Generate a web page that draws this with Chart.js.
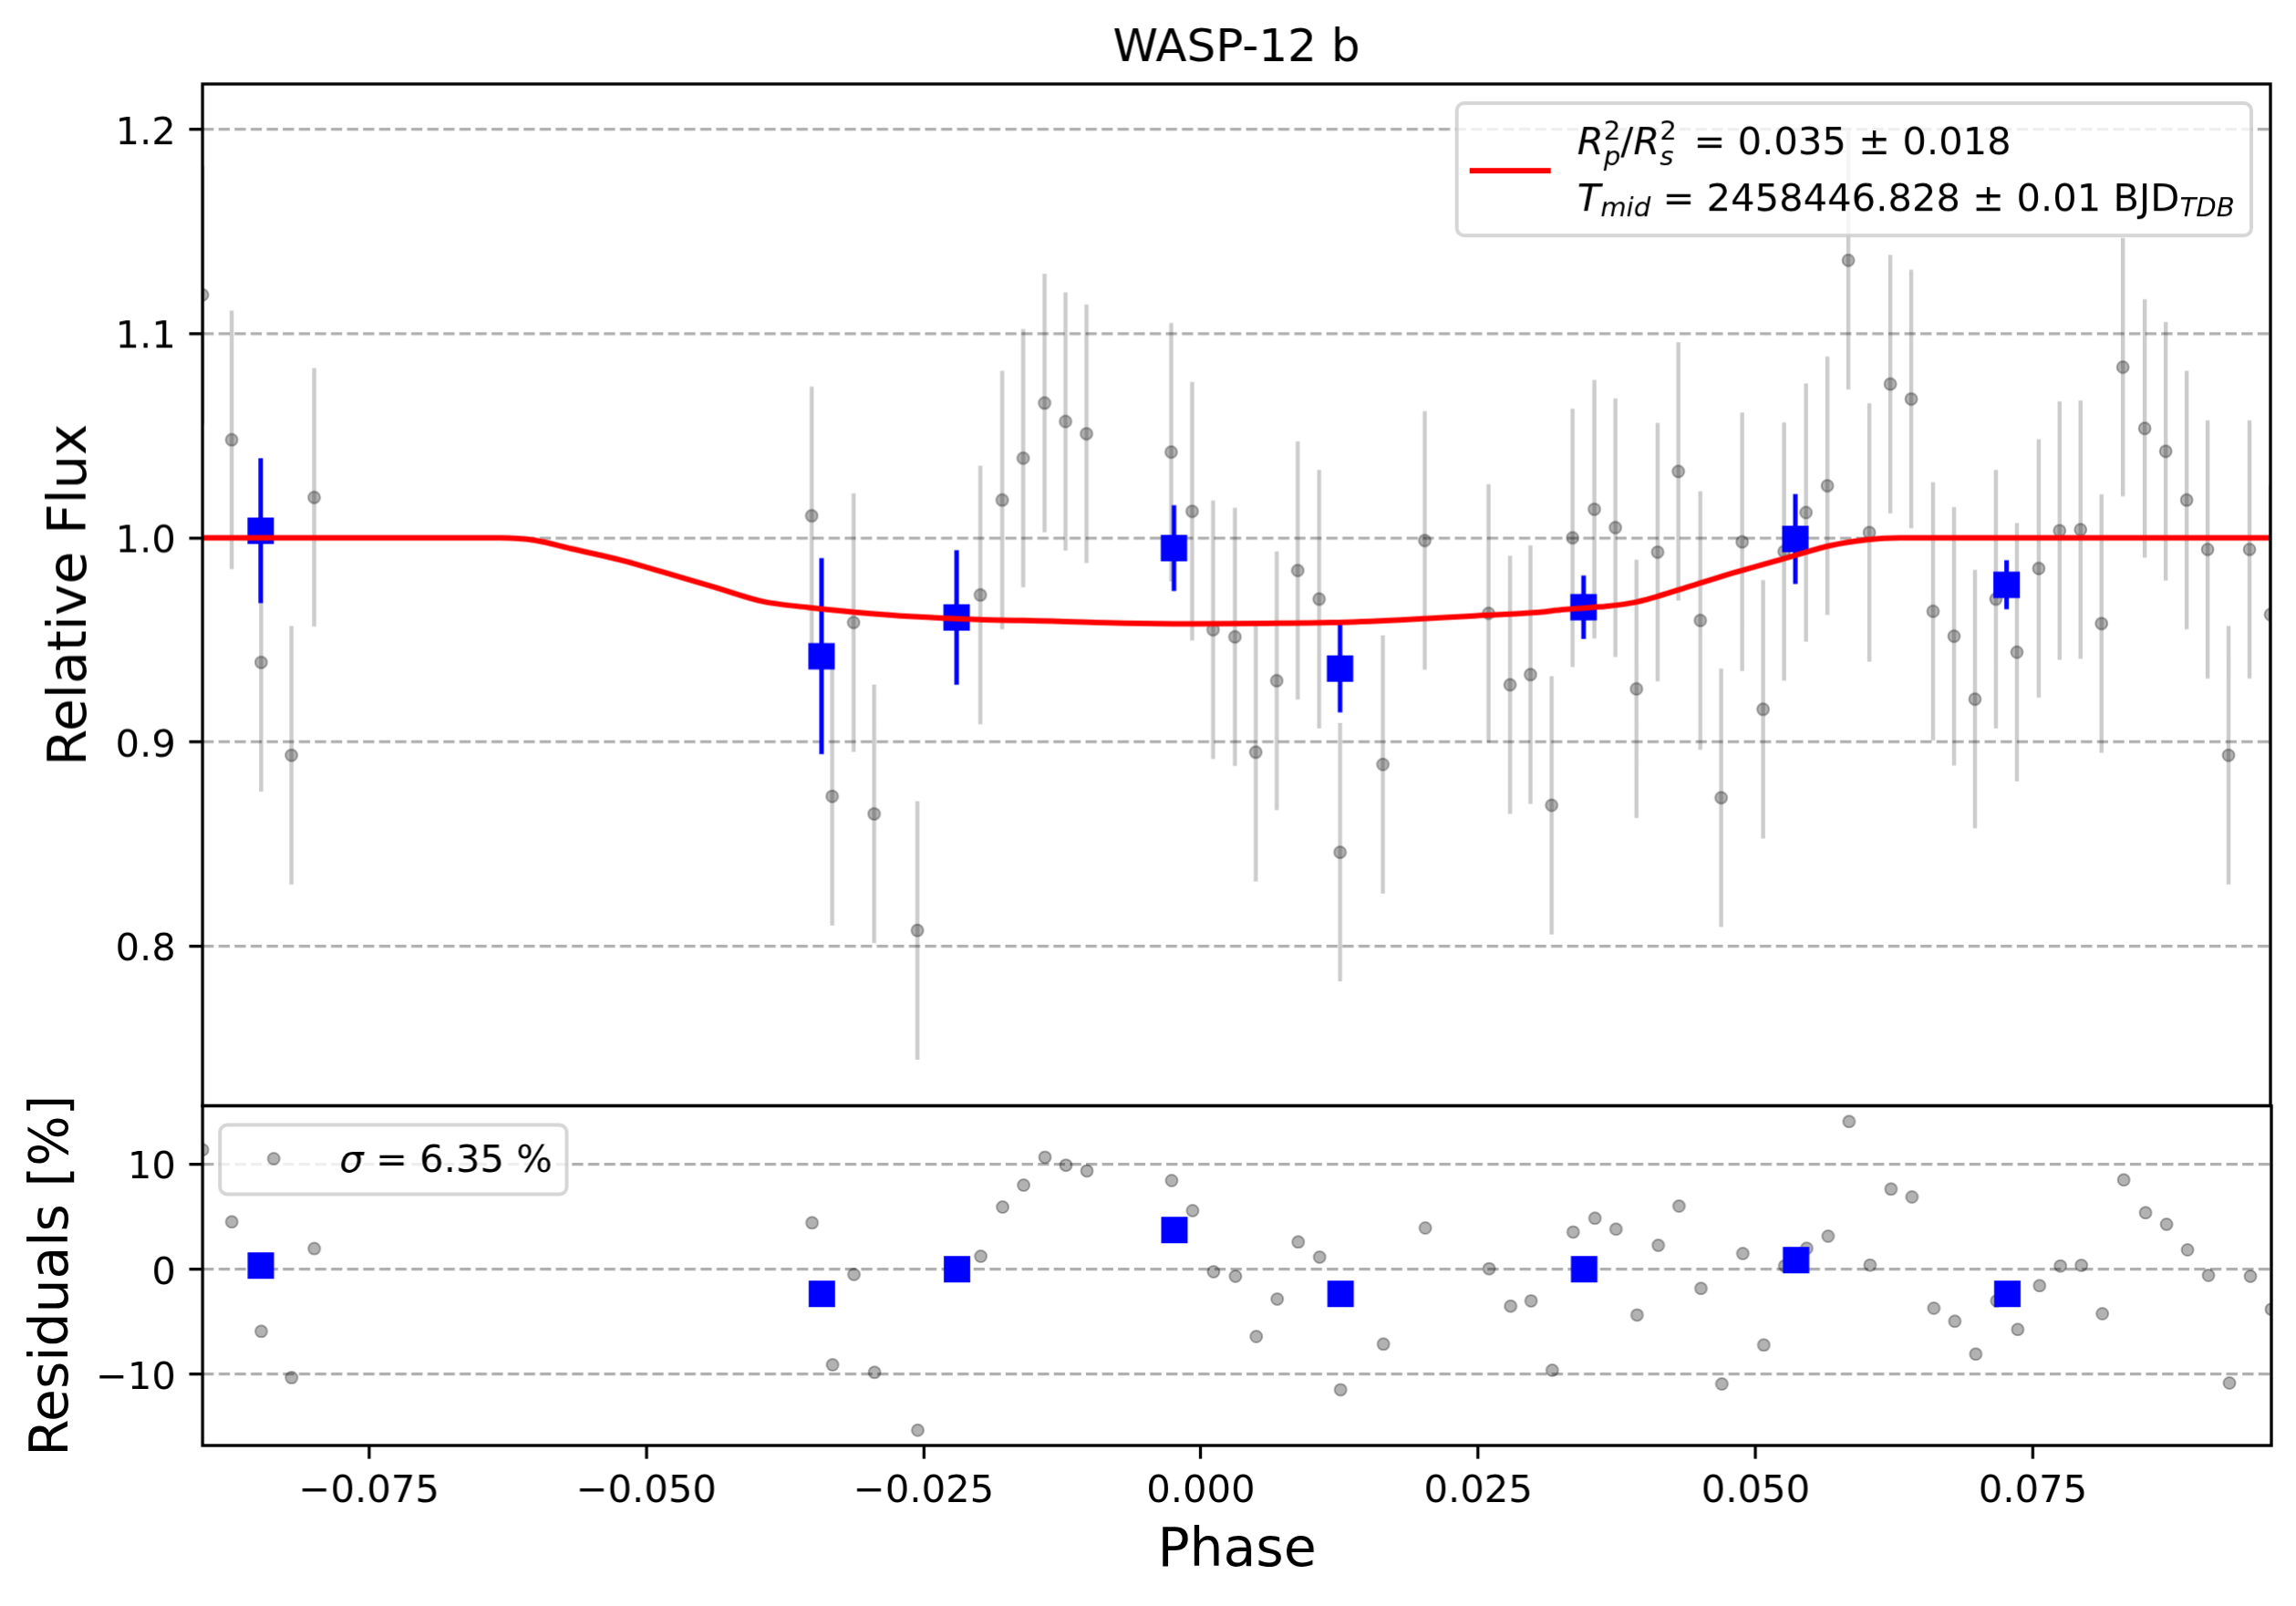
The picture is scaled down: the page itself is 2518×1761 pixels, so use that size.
<!DOCTYPE html>
<html>
<head>
<meta charset="utf-8">
<script src="https://cdn.jsdelivr.net/npm/chart.js@4.4.1/dist/chart.umd.min.js"></script>
<style>
  html, body { margin: 0; padding: 0; background: #fff; }
  #wrap { position: relative; width: 2518px; height: 1761px; overflow: hidden; background: #fff; }
  canvas { position: absolute; left: 0; }
  #topChart { top: 0; }
  #resChart { top: 1210px; }
</style>
</head>
<body>
<div id="wrap">
  <canvas id="topChart" width="2518" height="1214"></canvas>
  <canvas id="resChart" width="2518" height="551"></canvas>
</div>
<script>
// data
const phase = [-0.0900, -0.08737, -0.08471, -0.08198, -0.07993,
  -0.03506, -0.03321, -0.03128, -0.02943, -0.02553,
  -0.01985, -0.01788, -0.01599, -0.01406, -0.01217, -0.01028,
  -0.00264, -0.00075, 0.00114, 0.00311, 0.00499, 0.00688, 0.00877, 0.01070, 0.01259, 0.01645,
  0.02023, 0.02598, 0.02792, 0.02976, 0.03167, 0.03356, 0.03552, 0.03742, 0.03932, 0.04123,
  0.04310, 0.04508, 0.04696, 0.04885, 0.05074, 0.05263, 0.05461, 0.05654, 0.05843, 0.06032,
  0.06221, 0.06410, 0.06607, 0.06796, 0.06985, 0.07174, 0.07363, 0.07560, 0.07748, 0.07937,
  0.08126, 0.08319, 0.08516, 0.08705, 0.08894, 0.09083, 0.09272, 0.09461, 0.09650];
const flux = [1.119, 1.048, 0.939, 0.8935, 1.0198,
  1.0108, 0.8734, 0.9585, 0.8648, 0.8077,
  0.972, 1.0185, 1.039, 1.066, 1.057, 1.051,
  1.042, 1.013, 0.955, 0.9515, 0.895, 0.930, 0.984, 0.970, 0.846, 0.889,
  0.9987, 0.963, 0.928, 0.933, 0.869, 1.000, 1.014, 1.005, 0.926, 0.993,
  1.0325, 0.9595, 0.8727, 0.998, 0.916, 0.9933, 1.0124, 1.0255, 1.1359, 1.0026,
  1.0753, 1.068, 0.964, 0.9518, 0.921, 0.970, 0.944, 0.985, 1.0035, 1.004,
  0.958, 1.0836, 1.0536, 1.0424, 1.0185, 0.9943, 0.8935, 0.9943, 0.9624];
const fluxErr = [0.0633, 0.0633, 0.0633, 0.0633, 0.0633,
  0.0633, 0.0633, 0.0633, 0.0633, 0.0633,
  0.0633, 0.0633, 0.0633, 0.0633, 0.0633, 0.0633,
  0.0633, 0.0633, 0.0633, 0.0633, 0.0633, 0.0633, 0.0633, 0.0633, 0.0633, 0.0633,
  0.0633, 0.0633, 0.0633, 0.0633, 0.0633, 0.0633, 0.0633, 0.0633, 0.0633, 0.0633,
  0.0633, 0.0633, 0.0633, 0.0633, 0.0633, 0.0633, 0.0633, 0.0633, 0.0633, 0.0633,
  0.0633, 0.0633, 0.0633, 0.0633, 0.0633, 0.0633, 0.0633, 0.0633, 0.0633, 0.0633,
  0.0633, 0.0633, 0.0633, 0.0633, 0.0633, 0.0633, 0.0633, 0.0633, 0.0633];
const resid = [11.36, 4.51, -5.9, -10.3, 1.97,
  4.42, -9.08, -0.49, -9.8, -15.3,
  1.24, 5.92, 8.0, 10.66, 9.9, 9.36,
  8.44, 5.58, -0.23, -0.66, -6.39, -2.83, 2.6, 1.16, -11.45, -7.11,
  3.93, 0.06, -3.5, -3.0, -9.6, 3.55, 4.86, 3.82, -4.34, 2.28,
  6.01, -1.82, -10.9, 1.5, -7.2, 0.32, 2.0, 3.15, 14.05, 0.4,
  7.63, 6.88, -3.7, -4.94, -8.06, -3.0, -5.72, -1.56, 0.32, 0.38,
  -4.22, 8.5, 5.38, 4.28, 1.85, -0.58, -10.81, -0.66, -3.8];

// binned points
const binPhase = [-0.08475, -0.03417, -0.02199, -0.00239, 0.01259, 0.03455, 0.05365, 0.0727];
const binFlux = [1.0035, 0.942, 0.961, 0.995, 0.936, 0.966, 0.9994, 0.977];
const binErr = [0.0355, 0.048, 0.033, 0.021, 0.0215, 0.0155, 0.022, 0.012];
const binResid = [0.35, -2.34, 0.0, 3.73, -2.34, 0.0, 0.87, -2.34];

// transit model
const modelPhase = [-0.0900, -0.0631, -0.0600, -0.0566, -0.0522, -0.0480, -0.0438, -0.0396,
  -0.0354, -0.0312, -0.0259, -0.0200, -0.0133, -0.0070, -0.0008, 0.0060, 0.0118, 0.0180,
  0.0244, 0.0300, 0.0328, 0.0360, 0.0392, 0.0442, 0.0484, 0.0526, 0.0568, 0.0600, 0.0631, 0.0965];
const modelFlux = [1.0000, 1.0000, 0.9988, 0.9945, 0.9890, 0.9825, 0.9758, 0.9690,
  0.9659, 0.9636, 0.9614, 0.9600, 0.9592, 0.9582, 0.9579, 0.9581, 0.9585, 0.9598,
  0.9617, 0.9633, 0.9649, 0.9662, 0.9684, 0.9764, 0.9834, 0.9898, 0.9962, 0.9990, 1.0000, 1.0000];

const fluxTicks = [0.8, 0.9, 1.0, 1.1, 1.2];
const residTicks = [-10, 0, 10];
const phaseTicks = [-0.075, -0.05, -0.025, 0, 0.025, 0.05, 0.075];

const PT = 300 / 72;           // figure was saved at 300 dpi
const TICK_FONT = 10 * PT;
const LABEL_FONT = 14 * PT;
const TITLE_FONT = 12 * PT;
const LINE_W = 0.8 * PT;
const FONT = '"DejaVu Sans"';
const SPLIT_Y = 1212;          // shared edge of the two panels
const BOTTOM_Y = 1585;         // bottom edge of the residual panel

Chart.defaults.font.family = FONT;
Chart.defaults.color = '#000';
Chart.defaults.animation = false;

function pts(xs, ys) {
  return xs.map((x, i) => ({ x: x, y: ys[i] }));
}

// vertical error bars as broken line segments
function errSegs(xs, ys, es) {
  const out = [];
  xs.forEach((x, i) => {
    out.push({ x: x, y: ys[i] - es[i] });
    out.push({ x: x, y: ys[i] + es[i] });
    out.push({ x: x, y: null });
  });
  return out;
}

function fmt(v, d) {
  return (v < 0 ? '\u2212' : '') + Math.abs(v).toFixed(d);
}

function yAxis(min, max, tickList, labelFn, title, titlePad) {
  return {
    type: 'linear',
    min: min,
    max: max,
    afterFit: s => { s.width = 222; s.paddingTop = 0; s.paddingBottom = 0; },
    afterBuildTicks: s => { s.ticks = tickList.map(v => ({ value: v })); },
    ticks: { callback: labelFn, font: { size: TICK_FONT }, color: '#000', padding: 14.6, labelOffset: 5 },
    grid: { color: '#b0b0b0', lineWidth: LINE_W, tickColor: '#000', tickWidth: LINE_W,
            tickLength: 14.6, tickBorderDash: [] },
    border: { display: false, dash: [12.3, 5.3] },
    title: { display: true, text: title, font: { size: LABEL_FONT }, color: '#000',
             padding: { top: titlePad, bottom: 0 } }
  };
}

const frame = {
  id: 'frame',
  afterDatasetsDraw(chart) {
    const { ctx, chartArea: a } = chart;
    ctx.save();
    ctx.strokeStyle = '#000';
    ctx.lineWidth = LINE_W;
    ctx.strokeRect(a.left, a.top, a.right - a.left, a.bottom - a.top);
    ctx.restore();
  }
};

// text runs, mathtext style
function drawRuns(ctx, x, base, runs) {
  runs.forEach(r => {
    x += r.pad || 0;
    if (r.sup !== undefined || r.sub !== undefined) {
      const s = TICK_FONT * 0.7;
      let w = 0;
      if (r.sup !== undefined) {
        ctx.font = s + 'px ' + FONT;
        ctx.fillText(r.sup, x, base - 16);
        w = Math.max(w, ctx.measureText(r.sup).width);
      }
      if (r.sub !== undefined) {
        ctx.font = 'italic ' + s + 'px ' + FONT;
        ctx.fillText(r.sub, x, base + (r.sup !== undefined ? 12 : 6));
        w = Math.max(w, ctx.measureText(r.sub).width);
      }
      x += w;
    } else {
      ctx.font = (r.italic ? 'italic ' : '') + TICK_FONT + 'px ' + FONT;
      ctx.fillText(r.t, x, base);
      x += ctx.measureText(r.t).width;
    }
  });
}

function legendBox(ctx, x, y, w, h) {
  ctx.save();
  ctx.beginPath();
  ctx.roundRect(x, y, w, h, 8);
  ctx.fillStyle = 'rgba(255,255,255,0.8)';
  ctx.fill();
  ctx.lineWidth = 4;
  ctx.strokeStyle = 'rgba(204,204,204,0.8)';
  ctx.stroke();
  ctx.restore();
}

const fitLegend = {
  id: 'fitLegend',
  afterDatasetsDraw(chart) {
    const { ctx, chartArea: a } = chart;
    const w = 871, h = 145;
    const bx = a.right - 21 - w, by = a.top + 21;
    legendBox(ctx, bx, by, w, h);
    ctx.save();
    ctx.strokeStyle = '#ff0000';
    ctx.lineWidth = 6;
    ctx.beginPath();
    ctx.moveTo(bx + 14, by + 74);
    ctx.lineTo(bx + 103, by + 74);
    ctx.stroke();
    ctx.fillStyle = '#000';
    ctx.textBaseline = 'alphabetic';
    ctx.textAlign = 'left';
    drawRuns(ctx, bx + 132, by + 56, [
      { t: 'R', italic: true }, { sup: '2', sub: 'p' }, { t: '/' },
      { t: 'R', italic: true }, { sup: '2', sub: 's' },
      { t: '= 0.035 \u00b1 0.018', pad: 18.7 }
    ]);
    drawRuns(ctx, bx + 132, by + 118, [
      { t: 'T', italic: true }, { sub: 'mid' },
      { t: ' = 2458446.828 \u00b1 0.01 BJD' }, { sub: 'TDB' }
    ]);
    ctx.restore();
  }
};

const sigmaLegend = {
  id: 'sigmaLegend',
  afterDatasetsDraw(chart) {
    const { ctx, chartArea: a } = chart;
    const bx = a.left + 19, by = a.top + 21;
    legendBox(ctx, bx, by, 380, 76);
    ctx.save();
    ctx.beginPath();
    ctx.arc(bx + 59, by + 37, 6.5, 0, Math.PI * 2);
    ctx.fillStyle = 'rgba(0,0,0,0.3)';
    ctx.fill();
    ctx.lineWidth = 2;
    ctx.strokeStyle = 'rgba(0,0,0,0.3)';
    ctx.stroke();
    ctx.fillStyle = '#000';
    ctx.textBaseline = 'alphabetic';
    ctx.textAlign = 'left';
    drawRuns(ctx, bx + 131, by + 51, [
      { t: '\u03c3', italic: true }, { t: ' = 6.35 %' }
    ]);
    ctx.restore();
  }
};

const X_MIN = -0.0900, X_MAX = 0.0965;

function topConfig() {
  return {
    type: 'scatter',
    data: {
      datasets: [
        { type: 'line', data: pts(modelPhase, modelFlux), borderColor: '#ff0000', borderWidth: 6,
          pointRadius: 0, tension: 0.4, cubicInterpolationMode: 'monotone', order: 1, clip: 0 },
        { type: 'scatter', data: pts(binPhase, binFlux), pointStyle: 'rect', pointRadius: 20.5,
          backgroundColor: '#0000ff', borderWidth: 0, order: 2, clip: 0 },
        { type: 'line', data: errSegs(binPhase, binFlux, binErr), borderColor: '#0000ff', borderWidth: 5,
          borderCapStyle: 'butt', pointRadius: 0, spanGaps: false, order: 3, clip: 0 },
        { type: 'scatter', data: pts(phase, flux), pointRadius: 6.5, backgroundColor: 'rgba(0,0,0,0.3)',
          borderColor: 'rgba(0,0,0,0.3)', borderWidth: 2, order: 4, clip: 0 },
        { type: 'line', data: errSegs(phase, flux, fluxErr), borderColor: 'rgba(0,0,0,0.2)', borderWidth: 4.5,
          borderCapStyle: 'butt', pointRadius: 0, spanGaps: false, order: 5, clip: 0 }
      ]
    },
    options: {
      responsive: false,
      maintainAspectRatio: false,
      devicePixelRatio: 1,
      events: [],
      layout: { padding: { top: 0, right: 29, bottom: 0, left: 0 } },
      scales: {
        x: { type: 'linear', display: false, min: X_MIN, max: X_MAX },
        y: yAxis(0.7218, 1.2223, fluxTicks, v => v.toFixed(1), 'Relative Flux', 44)
      },
      plugins: {
        legend: { display: false },
        tooltip: { enabled: false },
        title: { display: true, text: 'WASP-12 b', fullSize: false, color: '#000',
                 font: { size: TITLE_FONT, weight: 'normal' }, padding: { top: 24, bottom: 8 } }
      }
    },
    plugins: [frame, fitLegend]
  };
}

function resConfig() {
  return {
    type: 'scatter',
    data: {
      datasets: [
        { type: 'scatter', data: pts(binPhase, binResid), pointStyle: 'rect', pointRadius: 20.5,
          backgroundColor: '#0000ff', borderWidth: 0, order: 1, clip: 0 },
        { type: 'scatter', data: pts(phase, resid), pointRadius: 6.5, backgroundColor: 'rgba(0,0,0,0.3)',
          borderColor: 'rgba(0,0,0,0.3)', borderWidth: 2, order: 2, clip: 0 }
      ]
    },
    options: {
      responsive: false,
      maintainAspectRatio: false,
      devicePixelRatio: 1,
      events: [],
      layout: { padding: { top: 0, right: 29, bottom: 0, left: 0 } },
      scales: {
        x: {
          type: 'linear',
          min: X_MIN,
          max: X_MAX,
          afterFit: s => { s.height = 176; s.paddingLeft = 0; s.paddingRight = 0; },
          afterBuildTicks: s => { s.ticks = phaseTicks.map(v => ({ value: v })); },
          ticks: { callback: v => fmt(v, 3), font: { size: TICK_FONT }, color: '#000', padding: 12,
                   autoSkip: false, maxRotation: 0 },
          grid: { drawOnChartArea: false, tickColor: '#000', tickWidth: LINE_W, tickLength: 14.6 },
          border: { display: false },
          title: { display: true, text: 'Phase', font: { size: LABEL_FONT }, color: '#000',
                   padding: { top: 0, bottom: 24 } }
        },
        y: yAxis(-16.75, 15.55, residTicks, v => fmt(v, 0), 'Residuals [%]', 24)
      },
      plugins: {
        legend: { display: false },
        tooltip: { enabled: false }
      }
    },
    plugins: [frame, sigmaLegend]
  };
}

// first pass measures the space Chart.js keeps around each plot,
// second pass sizes the canvases so both panels meet at SPLIT_Y
const topCanvas = document.getElementById('topChart');
let probe = new Chart(topCanvas, topConfig());
const gapTop = topCanvas.height - probe.chartArea.bottom;
probe.destroy();
topCanvas.height = SPLIT_Y + gapTop;
topCanvas.style.height = (SPLIT_Y + gapTop) + 'px';
topCanvas.style.top = '0px';
new Chart(topCanvas, topConfig());

const resCanvas = document.getElementById('resChart');
probe = new Chart(resCanvas, resConfig());
const areaTop = probe.chartArea.top;
const gapRes = resCanvas.height - probe.chartArea.bottom;
probe.destroy();
const resH = (BOTTOM_Y - SPLIT_Y) + areaTop + gapRes;
resCanvas.height = resH;
resCanvas.style.height = resH + 'px';
resCanvas.style.top = (SPLIT_Y - areaTop) + 'px';
new Chart(resCanvas, resConfig());
</script>
</body>
</html>
